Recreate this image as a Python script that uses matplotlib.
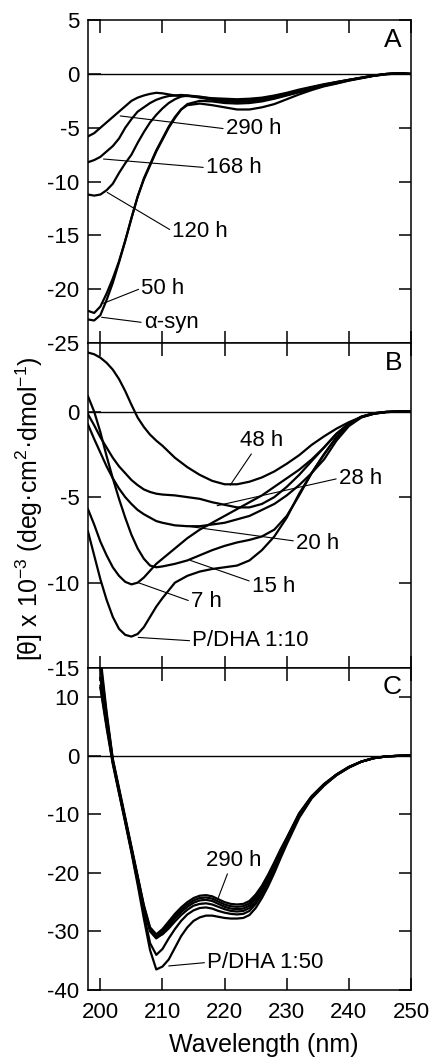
import numpy as np
import matplotlib
matplotlib.use("Agg")
import matplotlib.pyplot as plt

plt.rcParams['font.family'] = ['Liberation Sans', 'DejaVu Sans']
plt.rcParams['mathtext.fontset'] = 'custom'
plt.rcParams['mathtext.rm'] = 'Liberation Sans'
plt.rcParams['mathtext.it'] = 'Liberation Sans:italic'
plt.rcParams['axes.unicode_minus'] = False

# ---- panel A: alpha-syn alone, incubation time ----
wl_a = [198, 199, 200, 201, 202, 203, 204, 205, 206, 207, 208, 209, 210, 211, 212, 213, 214,
        216, 218, 220, 222, 224, 226, 228, 230, 232, 234, 236, 238, 240, 242, 244, 246, 248, 250]
a_290h = [-5.8, -5.5, -5.0, -4.5, -4.0, -3.5, -3.0, -2.5, -2.2, -2.0, -1.85, -1.75, -1.8, -1.9, -2.0, -2.05, -2.05,
          -2.15, -2.25, -2.3, -2.35, -2.3, -2.2, -2.0, -1.75, -1.45, -1.2, -0.95, -0.75, -0.55, -0.35, -0.15, 0.0, 0.08, 0.0]
a_168h = [-8.2, -8.0, -7.7, -7.2, -6.7, -6.0, -5.0, -4.2, -3.5, -3.1, -2.7, -2.4, -2.2, -2.05, -2.0, -1.95, -2.0,
          -2.1, -2.3, -2.4, -2.45, -2.4, -2.3, -2.1, -1.85, -1.55, -1.25, -1.0, -0.75, -0.55, -0.35, -0.15, 0.0, 0.08, 0.0]
a_120h = [-11.2, -11.3, -11.2, -10.8, -10.2, -9.2, -8.3, -7.5, -6.4, -5.4, -4.5, -3.8, -3.2, -2.7, -2.35, -2.1, -2.0,
          -2.2, -2.4, -2.55, -2.6, -2.55, -2.45, -2.25, -1.95, -1.65, -1.35, -1.05, -0.8, -0.55, -0.35, -0.15, 0.0, 0.06, 0.0]
a_50h = [-22.0, -22.2, -21.6, -20.4, -19.0, -17.4, -15.5, -13.4, -11.4, -9.8, -8.5, -7.2, -6.1, -5.0, -4.1, -3.3, -2.8,
         -2.5, -2.55, -2.7, -2.75, -2.7, -2.55, -2.3, -2.0, -1.7, -1.4, -1.1, -0.85, -0.6, -0.38, -0.17, -0.02, 0.05, 0.0]
a_syn = [-22.8, -22.9, -22.4, -21.0, -19.4, -17.5, -15.5, -13.4, -11.4, -9.7, -8.4, -7.1, -6.0, -4.9, -4.0, -3.3, -2.9,
         -2.75, -2.9, -3.1, -3.3, -3.3, -3.1, -2.8, -2.35, -1.9, -1.5, -1.15, -0.9, -0.62, -0.4, -0.18, -0.03, 0.05, 0.0]

# ---- panel B: P/DHA 1:10 ----
wl_b = [198, 199, 200, 201, 202, 203, 204, 205, 206, 207, 208, 209, 210,
        212, 214, 216, 218, 220, 222, 224, 226, 228, 230, 232, 234, 236, 238, 240, 242, 244, 246, 248, 250]
b_48h = [3.45, 3.35, 3.15, 2.85, 2.45, 1.9, 1.2, 0.4, -0.35, -0.9, -1.35, -1.7, -2.0,
         -2.7, -3.25, -3.7, -4.05, -4.25, -4.25, -4.1, -3.85, -3.5, -3.05, -2.55, -1.95, -1.45, -1.0, -0.62, -0.32, -0.13, -0.03, 0, 0]
b_28h = [-0.15, -0.8, -1.5, -2.1, -2.7, -3.2, -3.6, -4.0, -4.3, -4.55, -4.7, -4.8, -4.85,
         -4.9, -5.0, -5.1, -5.3, -5.45, -5.6, -5.6, -5.4, -5.0, -4.4, -3.7, -2.9, -2.1, -1.3, -0.7, -0.32, -0.12, -0.03, 0, 0]
b_20h = [-0.75, -1.6, -2.4, -3.2, -3.9, -4.5, -5.0, -5.4, -5.75, -6.0, -6.2, -6.4, -6.5,
         -6.65, -6.7, -6.7, -6.6, -6.5, -6.3, -6.1, -5.75, -5.4, -4.9, -4.3, -3.6, -2.8, -1.7, -0.85, -0.35, -0.13, -0.03, 0, 0]
b_15h = [0.9, 0.0, -1.2, -2.6, -3.9, -5.1, -6.2, -7.2, -8.0, -8.6, -9.0, -9.1, -9.05,
         -8.9, -8.7, -8.4, -8.1, -7.85, -7.65, -7.5, -7.3, -6.9, -6.1, -4.9, -3.6, -2.5, -1.5, -0.75, -0.32, -0.1, -0.02, 0, 0]
b_7h = [-5.7, -6.6, -7.6, -8.4, -9.1, -9.6, -9.95, -10.1, -10.0, -9.7, -9.3, -8.9, -8.6,
        -8.0, -7.4, -6.9, -6.5, -6.1, -5.7, -5.3, -4.9, -4.4, -3.9, -3.4, -2.8, -2.1, -1.3, -0.7, -0.3, -0.1, -0.02, 0, 0]
b_pdha = [-7.0, -8.4, -9.8, -11.0, -12.0, -12.7, -13.05, -13.15, -13.0, -12.6, -12.0, -11.4, -10.9,
          -10.0, -9.6, -9.35, -9.2, -9.1, -9.0, -8.7, -8.1, -7.3, -6.2, -4.8, -3.6, -2.5, -1.5, -0.75, -0.3, -0.1, -0.02, 0, 0]

# ---- panel C: P/DHA 1:50 ----
wl_c = [200, 201, 202, 203, 204, 205, 206, 207, 208, 209, 210, 211, 212, 213, 214, 215, 216, 217, 218, 219,
        220, 221, 222, 223, 224, 225, 226, 227, 228, 229, 230, 232, 234, 236, 238, 240, 242, 244, 246, 248, 250]
c_290h = [17.0, 7.5, -0.5, -5.5, -10.5, -15.5, -20.5, -25.5, -29.3, -30.5, -29.6, -28.3, -27.0, -25.9, -25.0, -24.3, -23.9, -23.8, -24.0, -24.5,
          -25.0, -25.3, -25.4, -25.3, -24.8, -23.7, -22.2, -20.3, -18.2, -16.0, -14.0, -9.8, -6.9, -4.8, -3.2, -1.9, -1.0, -0.4, -0.1, 0.0, 0.05]
c_2 = [16.0, 7.0, -0.7, -5.7, -10.7, -15.7, -20.7, -25.7, -29.6, -30.9, -30.0, -28.7, -27.4, -26.3, -25.4, -24.7, -24.3, -24.2, -24.4, -24.9,
       -25.4, -25.7, -25.8, -25.7, -25.2, -24.0, -22.5, -20.6, -18.4, -16.2, -14.1, -9.9, -7.0, -4.9, -3.2, -1.9, -1.0, -0.4, -0.1, 0.0, 0.05]
c_3 = [15.2, 6.6, -0.9, -5.9, -10.9, -15.9, -20.9, -26.0, -30.0, -31.2, -30.4, -29.1, -27.8, -26.7, -25.8, -25.1, -24.7, -24.6, -24.8, -25.3,
       -25.8, -26.1, -26.2, -26.1, -25.6, -24.4, -22.8, -20.9, -18.7, -16.4, -14.3, -10.0, -7.0, -4.9, -3.2, -1.9, -1.0, -0.4, -0.1, 0.0, 0.05]
c_4 = [13.3, 5.8, -1.0, -6.0, -11.0, -16.0, -21.0, -26.0, -29.8, -31.0, -30.5, -29.5, -28.3, -27.2, -26.3, -25.6, -25.3, -25.2, -25.4, -25.8,
       -26.2, -26.5, -26.6, -26.5, -26.0, -24.9, -23.3, -21.3, -19.0, -16.7, -14.5, -10.2, -7.1, -5.0, -3.3, -2.0, -1.0, -0.4, -0.1, 0.0, 0.05]
c_5 = [12.0, 5.2, -1.2, -6.2, -11.2, -16.3, -21.5, -27.0, -32.0, -34.0, -33.0, -31.2, -29.6, -28.2, -27.1, -26.4, -26.0, -25.9, -26.1, -26.5,
       -26.8, -27.0, -27.1, -27.0, -26.5, -25.3, -23.7, -21.7, -19.4, -17.0, -14.7, -10.4, -7.2, -5.0, -3.3, -2.0, -1.0, -0.4, -0.1, 0.0, 0.05]
c_pdha = [11.6, 4.8, -1.4, -6.4, -11.4, -16.5, -22.0, -27.8, -33.2, -36.5, -36.0, -34.8, -32.8, -30.8, -29.3, -28.2, -27.6, -27.3, -27.3, -27.5,
          -27.7, -27.8, -27.8, -27.7, -27.2, -26.0, -24.3, -22.3, -20.0, -17.5, -15.1, -10.6, -7.3, -5.1, -3.3, -2.0, -1.0, -0.4, -0.1, 0.0, 0.05]

xticks = [200, 210, 220, 230, 240, 250]
yticks_a = [5, 0, -5, -10, -15, -20, -25]
yticks_b = [0, -5, -10, -15]
yticks_c = [10, 0, -10, -20, -30, -40]

fig = plt.figure(figsize=(4.29, 10.59), dpi=100)
axA = fig.add_axes([0.205, 0.676, 0.753, 0.305])
axB = fig.add_axes([0.205, 0.369, 0.753, 0.307])
axC = fig.add_axes([0.205, 0.0652, 0.753, 0.304])


def style(ax, ylim, yticks, letter, show_x=False):
    ax.set_xlim(198, 250)
    ax.set_ylim(*ylim)
    ax.set_xticks(xticks)
    ax.set_yticks(yticks)
    ax.axhline(0, color='k', lw=1.0, zorder=1)
    ax.tick_params(direction='in', length=9, width=1.1, top=True, right=True,
                   labelsize=16, pad=6)
    ax.tick_params(axis='x', pad=9, labelbottom=show_x)
    for s in ax.spines.values():
        s.set_linewidth(1.1)
    ax.text(0.972, 0.94, letter, transform=ax.transAxes, ha='right', va='center', fontsize=19)


def label(ax, text, xy, xytext, rel=(0, 0.5)):
    ax.annotate(text, xy=xy, xytext=xytext, ha='left', va='center', fontsize=16,
                arrowprops=dict(arrowstyle='-', lw=0.8, color='k',
                                shrinkA=0, shrinkB=0, relpos=rel))


lw = 1.6
for y in [a_290h, a_168h, a_120h, a_50h, a_syn]:
    axA.plot(wl_a, y, color='k', lw=lw)
style(axA, (-25, 5), yticks_a, 'A')
label(axA, '290 h', (203.2, -3.9), (220.2, -5.1))
label(axA, '168 h', (200.5, -7.9), (217.0, -8.7))
label(axA, '120 h', (201.1, -11.0), (211.6, -14.6))
label(axA, '50 h', (200.5, -21.3), (206.6, -19.9))
label(axA, 'α-syn', (200.2, -22.6), (207.0, -23.1))

for y in [b_48h, b_28h, b_20h, b_15h, b_7h, b_pdha]:
    axB.plot(wl_b, y, color='k', lw=lw)
style(axB, (-15, 4), yticks_b, 'B')
label(axB, '48 h', (220.9, -4.3), (222.4, -1.7), rel=(0.35, 0.1))
label(axB, '28 h', (218.8, -5.5), (238.4, -3.9))
label(axB, '20 h', (214.0, -6.7), (231.5, -7.7), rel=(0, 0.6))
label(axB, '15 h', (214.5, -8.7), (224.4, -10.2), rel=(0, 0.7))
label(axB, '7 h', (206.1, -10.0), (214.6, -11.1))
label(axB, 'P/DHA 1:10', (206.1, -13.2), (214.8, -13.4))

for y in [c_290h, c_2, c_3, c_4, c_5, c_pdha]:
    axC.plot(wl_c, y, color='k', lw=lw)
style(axC, (-40, 15), yticks_c, 'C', show_x=True)
label(axC, '290 h', (219.0, -24.2), (217.0, -17.9), rel=(0.42, 0.1))
label(axC, 'P/DHA 1:50', (211.0, -35.9), (217.2, -35.3))

fig.text(0.615, 0.013, 'Wavelength (nm)', ha='center', va='center', fontsize=18)
fig.text(0.068, 0.52, '[θ] x 10$^{-3}$ (deg·cm$^{2}$·dmol$^{-1}$)',
         rotation=90, ha='center', va='center', fontsize=18)

fig.savefig('out.png', dpi=100)
